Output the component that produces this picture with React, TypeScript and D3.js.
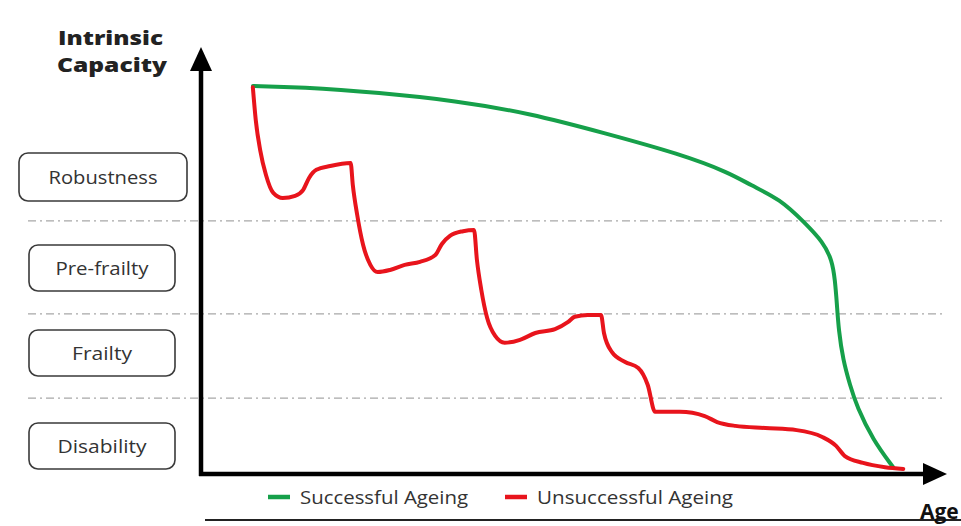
import React from "react";
import * as d3 from "d3";

// Data (age 0..100, intrinsic capacity 0..100)
const successfulAge = [7.12, 13.56, 24.52, 34.79, 45.07, 55.34, 65.62, 72.47, 75.21, 79.32, 82.74, 85.21, 86.44, 86.85, 87.12, 87.35, 87.95, 88.9, 89.86, 92.05, 94.79];
const successfulCap = [91.08, 90.85, 89.51, 87.63, 84.67, 79.98, 75.12, 70.66, 67.84, 64.55, 58.92, 54.46, 50.23, 45.54, 39.67, 33.8, 26.76, 20.89, 15.73, 7.98, 1.64];

const unsuccessfulAge = [7.1, 7.5, 8.1, 8.9, 9.9, 11.2, 12.9, 14.0, 14.8, 15.8, 17.7, 20.5, 20.8, 21.4, 22.2, 23.2, 24.2, 25.9, 27.9, 30.0, 32.1, 33.0, 34.1, 35.9, 37.4, 37.8, 38.4, 39.2, 40.3, 41.6, 43.7, 45.8, 48.5, 50.3, 51.2, 53.0, 54.8, 55.2, 56.3, 58.1, 59.9, 61.2, 62.2, 65.6, 69.0, 70.7, 73.2, 77.3, 81.6, 85.1, 87.0, 88.2, 90.7, 93.7, 96.2];
const unsuccessfulCap = [90.8, 83.1, 76.1, 70.2, 66.0, 64.8, 65.3, 66.7, 69.5, 71.4, 72.3, 73.0, 67.8, 60.8, 53.8, 49.1, 47.4, 47.9, 49.1, 49.8, 51.4, 54.0, 55.9, 57.0, 57.3, 50.2, 43.2, 36.6, 32.4, 30.8, 31.5, 33.1, 34.0, 35.7, 36.9, 37.3, 37.3, 33.1, 28.6, 26.3, 24.9, 20.9, 14.6, 14.6, 13.6, 12.2, 11.3, 10.8, 10.3, 8.7, 6.6, 4.2, 2.6, 1.6, 1.2];

const stageLabels = ["Robustness", "Pre-frailty", "Frailty", "Disability"];
const stageBoundaries = [59.4, 37.6, 17.8];
const legendLabels = ["Successful Ageing", "Unsuccessful Ageing"];

const W = 961;
const H = 526;
const GREEN = "#16a04a";
const RED = "#e8141c";

export default function App() {
  const x = d3.scaleLinear().domain([0, 100]).range([201, 931]);
  const y = d3.scaleLinear().domain([0, 100]).range([474, 48]);

  const redLine = d3
    .line<[number, number]>()
    .x((d) => x(d[0]))
    .y((d) => y(d[1]))
    .curve(d3.curveMonotoneX);

  const greenLine = d3
    .line<[number, number]>()
    .x((d) => x(d[0]))
    .y((d) => y(d[1]))
    .curve(d3.curveBasis);

  const green = successfulAge.map((a, i) => [a, successfulCap[i]] as [number, number]);
  const red = unsuccessfulAge.map((a, i) => [a, unsuccessfulCap[i]] as [number, number]);

  const boxes = [
    { x: 19, y: 153, w: 168, h: 48, tl: 109 },
    { x: 29, y: 245, w: 146, h: 46, tl: 93 },
    { x: 29, y: 330, w: 146, h: 46, tl: 60 },
    { x: 29, y: 423, w: 146, h: 46, tl: 89 },
  ];

  const textFont = "'Open Sans', 'DejaVu Sans', sans-serif";

  return (
    <svg
      width={W}
      height={H}
      style={{ position: "absolute", left: 0, top: 0, background: "#fff" }}
    >
      {/* stage boundaries */}
      {stageBoundaries.map((b, i) => (
        <line
          key={i}
          x1={28}
          x2={945}
          y1={y(b)}
          y2={y(b)}
          stroke="#a8a8a8"
          strokeWidth={1.3}
          strokeDasharray="8 4 2 4"
        />
      ))}

      {/* stage boxes */}
      {stageLabels.map((s, i) => {
        const bx = boxes[i];
        return (
          <g key={s}>
            <rect
              x={bx.x}
              y={bx.y}
              width={bx.w}
              height={bx.h}
              rx={9}
              fill="#fff"
              stroke="#3a3a3a"
              strokeWidth={1.6}
            />
            <text
              x={bx.x + bx.w / 2}
              y={bx.y + bx.h / 2 + 6.5}
              textAnchor="middle"
              fontFamily={textFont}
              fontSize={18.5}
              fill="#333"
              textLength={bx.tl}
              lengthAdjust="spacingAndGlyphs"
            >
              {s}
            </text>
          </g>
        );
      })}

      {/* title */}
      <text fontFamily="'Open Sans', sans-serif" fontWeight={800} fontSize={20} fill="#222">
        <tspan x={58} y={45} textLength={105} lengthAdjust="spacingAndGlyphs">Intrinsic</tspan>
        <tspan x={57} y={72} textLength={110} lengthAdjust="spacingAndGlyphs">Capacity</tspan>
      </text>

      {/* curves */}
      <path d={greenLine(green) || ""} fill="none" stroke={GREEN} strokeWidth={4} strokeLinejoin="round" strokeLinecap="round" />
      <path d={redLine(red) || ""} fill="none" stroke={RED} strokeWidth={4} strokeLinejoin="round" strokeLinecap="round" />

      {/* axes */}
      <line x1={201} x2={201} y1={476} y2={66} stroke="#000" strokeWidth={4.5} />
      <path d="M201,47 L190,71 L212,71 Z" fill="#000" />
      <line x1={199} x2={928} y1={474} y2={474} stroke="#000" strokeWidth={4.5} />
      <path d="M947,474 L923,463 L923,485 Z" fill="#000" />

      {/* legend */}
      <line x1={268} x2={290} y1={497} y2={497} stroke={GREEN} strokeWidth={4.5} />
      <text x={300} y={504} fontFamily={textFont} fontSize={19} fill="#333" textLength={168} lengthAdjust="spacingAndGlyphs">
        {legendLabels[0]}
      </text>
      <line x1={505} x2={527} y1={497} y2={497} stroke={RED} strokeWidth={4.5} />
      <text x={537} y={504} fontFamily={textFont} fontSize={19} fill="#333" textLength={196} lengthAdjust="spacingAndGlyphs">
        {legendLabels[1]}
      </text>

      {/* bottom rule and x label */}
      <line x1={205} x2={961} y1={520} y2={520} stroke="#222" strokeWidth={2} />
      <text x={920} y={519} fontFamily={textFont} fontWeight={700} fontSize={21} fill="#111">
        Age
      </text>
    </svg>
  );
}
